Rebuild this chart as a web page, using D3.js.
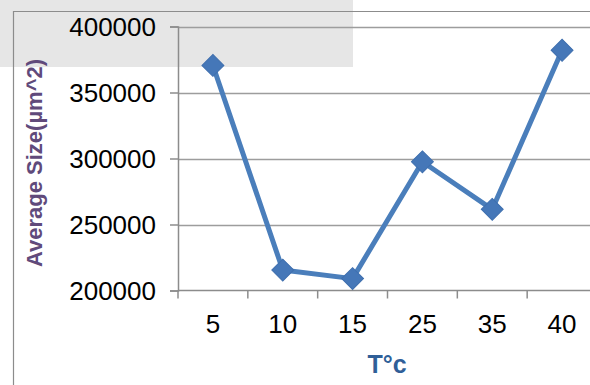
<!DOCTYPE html>
<html>
<head>
<meta charset="utf-8">
<script src="https://cdn.jsdelivr.net/npm/d3@7"></script>
<style>
  html, body { margin: 0; padding: 0; background: #fff; }
  svg { display: block; }
</style>
</head>
<body>
<svg id="chart" width="590" height="385"></svg>
<script>
// Temperature categories and the measured average size at each one
const temperatures = ["5", "10", "15", "25", "35", "40"];
const averageSizes = [370500, 215500, 209000, 297500, 261500, 382000];
const yTickValues = [200000, 250000, 300000, 350000, 400000];

const svg = d3.select("#chart");
const W = 590, H = 385;
const plot = { left: 178, top: 26.5, bottom: 290.5, right: 597 };

// Light grey panel behind the top-left corner
svg.append("rect")
  .attr("x", 0).attr("y", 0).attr("width", 353).attr("height", 67)
  .attr("fill", "#e6e6e6");

// Outer chart frame (left and top edges)
svg.append("path")
  .attr("d", `M13.5,${H} V11.5 H${W}`)
  .attr("fill", "none").attr("stroke", "#8c8c8c").attr("stroke-width", 1.2);

const x = d3.scaleBand().domain(temperatures).range([plot.left, plot.right]).padding(0);
const y = d3.scaleLinear().domain([200000, 400000]).range([plot.bottom, plot.top]);

// Horizontal gridlines
svg.append("g")
  .selectAll("line")
  .data(yTickValues.filter(v => v > 200000))
  .join("line")
  .attr("x1", plot.left).attr("x2", W)
  .attr("y1", d => Math.round(y(d)) + 0.5).attr("y2", d => Math.round(y(d)) + 0.5)
  .attr("stroke", "#9d9d9d").attr("stroke-width", 1.5);

// Y axis
const yAxis = svg.append("g")
  .attr("transform", `translate(${plot.left},0)`)
  .call(d3.axisLeft(y).tickValues(yTickValues).tickFormat(d3.format("d")).tickSize(8).tickPadding(14));
yAxis.select(".domain").attr("stroke", "#8c8c8c").attr("stroke-width", 1.5);
yAxis.selectAll(".tick line").attr("stroke", "#8c8c8c").attr("stroke-width", 1.5);
yAxis.selectAll(".tick text")
  .attr("font-family", "'Liberation Sans', Arial, sans-serif")
  .attr("font-size", 26).attr("fill", "#000").attr("dy", "0.35em");

// X axis with ticks between categories
const xAxis = svg.append("g")
  .attr("transform", `translate(0,${plot.bottom})`);
xAxis.append("line")
  .attr("x1", plot.left).attr("x2", W).attr("y1", 0).attr("y2", 0)
  .attr("stroke", "#8c8c8c").attr("stroke-width", 1.5);
xAxis.selectAll("line.tk")
  .data(temperatures)
  .join("line").attr("class", "tk")
  .attr("x1", d => x(d)).attr("x2", d => x(d))
  .attr("y1", 0).attr("y2", 8)
  .attr("stroke", "#8c8c8c").attr("stroke-width", 1.5);
xAxis.selectAll("text")
  .data(temperatures)
  .join("text")
  .attr("x", d => x(d) + x.bandwidth() / 2)
  .attr("y", 42.5)
  .attr("text-anchor", "middle")
  .attr("font-family", "'Liberation Sans', Arial, sans-serif")
  .attr("font-size", 26).attr("fill", "#000")
  .text(d => d);

// Axis titles
svg.append("text")
  .attr("transform", `translate(42,${(53 + 273) / 2}) rotate(-90)`)
  .attr("text-anchor", "middle")
  .attr("font-family", "'Liberation Sans', Arial, sans-serif")
  .attr("font-weight", "bold").attr("font-size", 22)
  .attr("fill", "#604a7b")
  .text("Average Size(µm^2)");

svg.append("text")
  .attr("x", 387).attr("y", 373)
  .attr("text-anchor", "middle")
  .attr("font-family", "'Liberation Sans', Arial, sans-serif")
  .attr("font-weight", "bold").attr("font-size", 25)
  .attr("fill", "#2f5f98")
  .text("T°c");

// Data line
const cx = (d, i) => x(temperatures[i]) + x.bandwidth() / 2;
const line = d3.line().x((d, i) => cx(d, i)).y(d => y(d));
svg.append("path")
  .datum(averageSizes)
  .attr("d", line)
  .attr("fill", "none")
  .attr("stroke", "#4a7ebb")
  .attr("stroke-width", 5)
  .attr("stroke-linejoin", "round");

// Diamond markers
svg.append("g")
  .selectAll("path")
  .data(averageSizes)
  .join("path")
  .attr("d", d3.symbol().type(d3.symbolSquare).size(240))
  .attr("transform", (d, i) => `translate(${cx(d, i)},${y(d)}) rotate(45)`)
  .attr("fill", "#4577b8")
  .attr("stroke", "#3f6fae").attr("stroke-width", 1);
</script>
</body>
</html>
